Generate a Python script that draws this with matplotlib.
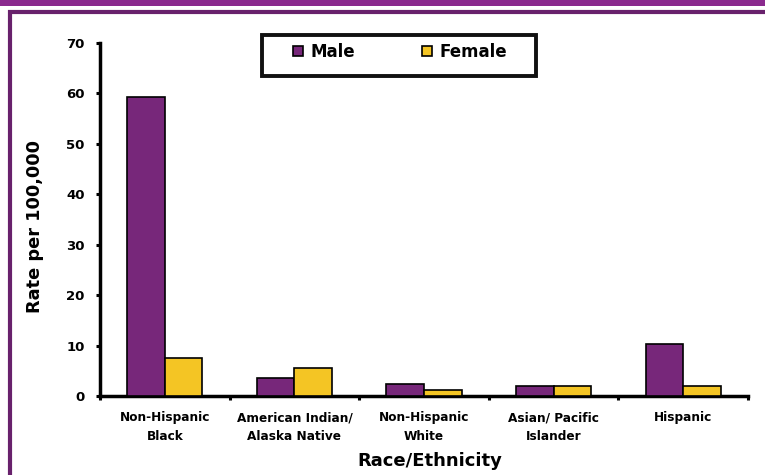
import matplotlib
matplotlib.use("Agg")
import matplotlib.pyplot as plt
from matplotlib.patches import Rectangle
import numpy as np

categories = ["Non-Hispanic\nBlack", "American Indian/\nAlaska Native", "Non-Hispanic\nWhite",
              "Asian/ Pacific\nIslander", "Hispanic"]
male = [59.3, 3.5, 2.4, 2.0, 10.3]
female = [7.5, 5.5, 1.1, 2.0, 2.0]
yticks = [0, 10, 20, 30, 40, 50, 60, 70]

purple = "#77277A"
yellow = "#F4C524"

plt.rcParams["font.family"] = ["DejaVu Sans"]
plt.rcParams["font.weight"] = "bold"

fig = plt.figure(figsize=(7.65, 4.75), dpi=100)
W, H = 765, 475

# purple band on top and frame
fig.patches.append(Rectangle((0, 1 - 6 / H), 1, 6 / H, transform=fig.transFigure,
                             facecolor="#8B2A8E", edgecolor="none", zorder=-2))
fig.patches.append(Rectangle((10.3 / W, -0.05), 1.0, 1 - 12 / H + 0.05, transform=fig.transFigure,
                             facecolor="none", edgecolor="#68216C", linewidth=3, zorder=-2))

ax = fig.add_axes([100 / W, 79 / H, 648 / W, 353 / H])
ax.patch.set_alpha(0)
x = np.arange(len(categories))
w = 0.29
ax.bar(x - w / 2, male, w, color=purple, edgecolor="black", linewidth=1.2, label="Male", zorder=3)
ax.bar(x + w / 2, female, w, color=yellow, edgecolor="black", linewidth=1.2, label="Female", zorder=3)

ax.set_xlim(-0.5, len(categories) - 0.5)
ax.set_ylim(0, 70)
ax.set_yticks(yticks)
ax.set_yticklabels([str(t) for t in yticks], fontsize=9.5, fontweight="bold")
ax.set_xticks(np.arange(len(categories) + 1) - 0.5)
ax.set_xticklabels([])
ax.set_xticks(x, minor=True)
ax.set_xticklabels(categories, minor=True, fontsize=8.7, fontweight="bold", linespacing=1.57)
ax.tick_params(axis="x", which="minor", length=0, pad=11)
ax.tick_params(axis="both", which="major", length=3, width=2.2, direction="out")
ax.tick_params(axis="y", which="major", pad=8)

for s in ["top", "right"]:
    ax.spines[s].set_visible(False)
for s in ["left", "bottom"]:
    ax.spines[s].set_linewidth(2.5)

ax.set_ylabel("Rate per 100,000", fontsize=12.8, fontweight="bold")
ax.yaxis.set_label_coords(-56 / 648, 0.479)
ax.set_xlabel("Race/Ethnicity", fontsize=13, fontweight="bold")
ax.xaxis.set_label_coords(0.5085, -0.158)

# legend: entries spread inside a boxed area
leg = ax.legend(loc="center", bbox_to_anchor=(293 / W, (H - 61) / H, 214 / W, 18 / H),
                bbox_transform=fig.transFigure, ncol=2, mode="expand", frameon=False,
                handlelength=0.6, handleheight=0.6, handletextpad=0.42, borderaxespad=0,
                borderpad=0, prop={"weight": "bold", "size": 12})
fig.patches.append(Rectangle((262 / W, (H - 76) / H), 274 / W, 41 / H, transform=fig.transFigure,
                             facecolor="white", edgecolor="#111111", linewidth=2.8, zorder=-1))

fig.savefig("out.png", dpi=100)
